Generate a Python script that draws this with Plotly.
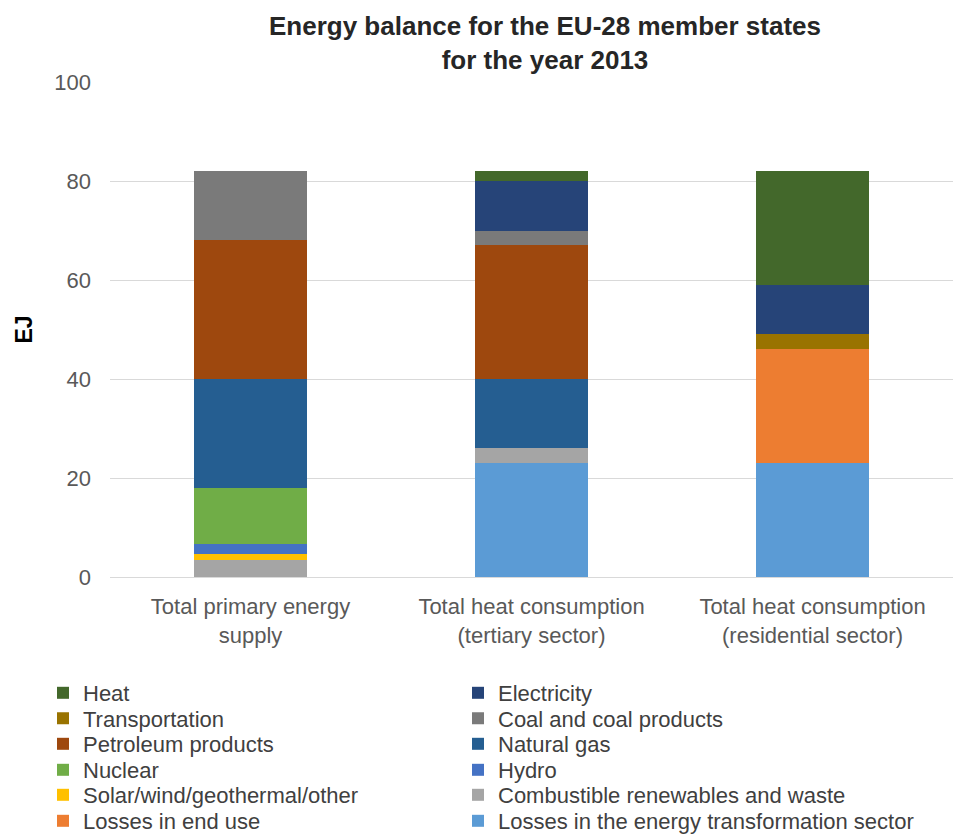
import plotly.graph_objects as go

# Categories on the x axis
categories = [
    "Total primary energy<br>supply",
    "Total heat consumption<br>(tertiary sector)",
    "Total heat consumption<br>(residential sector)",
]

# Series in stacking order (bottom to top), values in EJ
series_names = [
    "Losses in the energy transformation sector",
    "Losses in end use",
    "Combustible renewables and waste",
    "Solar/wind/geothermal/other",
    "Hydro",
    "Nuclear",
    "Natural gas",
    "Petroleum products",
    "Coal and coal products",
    "Transportation",
    "Electricity",
    "Heat",
]
losses_transformation = [0, 23, 23]
losses_end_use = [0, 0, 23]
combustible = [3.5, 3, 0]
solar_wind = [1.2, 0, 0]
hydro = [2, 0, 0]
nuclear = [11.3, 0, 0]
natural_gas = [22, 14, 0]
petroleum = [28, 27, 0]
coal = [14, 3, 0]
transportation = [0, 0, 3]
electricity = [0, 10, 10]
heat = [0, 2, 23]

series_values = [
    losses_transformation, losses_end_use, combustible, solar_wind, hydro,
    nuclear, natural_gas, petroleum, coal, transportation, electricity, heat,
]
series_colors = [
    "#5B9BD5", "#ED7D31", "#A5A5A5", "#FFC000", "#4472C4", "#70AD47",
    "#255E91", "#9E480E", "#7A7A7A", "#997300", "#264478", "#43682B",
]

# Legend layout: two columns, six rows (top to bottom)
legend_left_col = ["Heat", "Transportation", "Petroleum products",
                   "Nuclear", "Solar/wind/geothermal/other", "Losses in end use"]
legend_right_col = ["Electricity", "Coal and coal products", "Natural gas",
                    "Hydro", "Combustible renewables and waste",
                    "Losses in the energy transformation sector"]

font_family = "Liberation Sans, Arial, sans-serif"
legend_font = dict(size=22, color="#404040", family=font_family)
row_centers_px = [693, 718.5, 744, 770, 795, 821]
col_left_px = [43, 458]

# one small legend box per entry so the grid can be placed exactly
legend_slots = {}
for r, name in enumerate(legend_left_col):
    legend_slots[name] = (r, 0)
for r, name in enumerate(legend_right_col):
    legend_slots[name] = (r, 1)


def legend_id(idx):
    return "legend" if idx == 0 else f"legend{idx + 1}"


fig = go.Figure()
legend_layouts = {}
for name, vals, col in zip(series_names, series_values, series_colors):
    row, column = legend_slots[name]
    lid = legend_id(row * 2 + column)
    fig.add_trace(go.Bar(
        x=categories, y=vals, name=name,
        marker=dict(color=col, line=dict(width=0)),
        legend=lid, showlegend=True,
    ))
    legend_layouts[lid] = dict(
        orientation="h",
        xref="container", yref="container",
        x=col_left_px[column] / 963, xanchor="left",
        y=1 - row_centers_px[row] / 834, yanchor="middle",
        font=legend_font,
        bgcolor="rgba(0,0,0,0)",
    )

fig.update_layout(
    showlegend=True,
    barmode="stack",
    bargap=0.6,
    width=963, height=834,
    paper_bgcolor="white", plot_bgcolor="white",
    margin=dict(l=110, r=10, t=82, b=257),
    font=dict(family=font_family, color="#595959", size=21),
    title=dict(
        text="<b>Energy balance for the EU-28 member states<br>for the year 2013</b>",
        x=545 / 963, xanchor="center", y=1 - 35 / 834, yanchor="middle",
        font=dict(size=26, color="#262626", family=font_family),
    ),
    yaxis=dict(
        range=[0, 100], dtick=20,
        showgrid=True, gridcolor="#D9D9D9", gridwidth=1,
        zeroline=False, showline=False,
        ticklabelstandoff=18,
        tickfont=dict(size=22, color="#595959"),
        title=dict(text="<b>EJ</b>", font=dict(size=23, color="#000000"), standoff=15),
    ),
    xaxis=dict(
        showline=True, linecolor="#D9D9D9", linewidth=1,
        showgrid=False, ticks="",
        ticklabelstandoff=10,
        tickfont=dict(size=22, color="#595959"),
    ),
    **legend_layouts,
)

fig.write_html("out.html")
